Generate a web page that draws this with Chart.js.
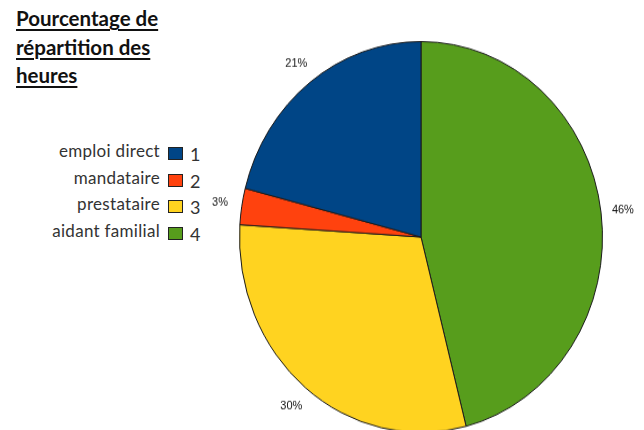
<!DOCTYPE html>
<html>
<head>
<meta charset="utf-8">
<script src="https://cdn.jsdelivr.net/npm/chart.js@4"></script>
<style>
  body { margin: 0; width: 644px; height: 430px; overflow: hidden; background: #fff; position: relative; }
  #title { position: absolute; left: 16px; top: 4px; font: bold 20.5px Lato, sans-serif; line-height: 28.5px; color: #111;
           text-decoration: underline; text-decoration-thickness: 2px; text-underline-offset: 3px; }
  .lg-text { position: absolute; right: 484px; font: 17px Lato, sans-serif; letter-spacing: 0.3px; color: #333; white-space: nowrap; }
  .lg-box { position: absolute; left: 168px; width: 13px; height: 11px; border: 1px solid #222; }
  .lg-num { position: absolute; left: 190px; font: 18px Lato, sans-serif; color: #333; }
  #wrap { position: absolute; left: 201px; top: 17px; width: 440px; height: 440px; transform: scaleY(1.077); transform-origin: 220px 220px; }
</style>
</head>
<body>
<div id="title">Pourcentage de<br>répartition des<br>heures</div>
<div id="legend"></div>
<div id="wrap"><canvas id="pie" width="440" height="440"></canvas></div>
<script>
// data
const categories = ['emploi direct', 'mandataire', 'prestataire', 'aidant familial'];
const codes = ['1', '2', '3', '4'];
const percents = [21, 3, 30, 46];
const colors = ['#004586', '#ff420e', '#ffd320', '#579d1c'];

// legend (html, left side)
const legend = document.getElementById('legend');
categories.forEach((c, i) => {
  const y = 147 + i * 26.5;
  legend.innerHTML +=
    '<div class="lg-text" style="top:' + (y - 7) + 'px">' + c + '</div>' +
    '<div class="lg-box" style="top:' + y + 'px;background:' + colors[i] + '"></div>' +
    '<div class="lg-num" style="top:' + (y - 4) + 'px">' + codes[i] + '</div>';
});

// slices go counter-clockwise from the top in the picture, so feed them reversed
const order = [3, 2, 1, 0];

const outsideLabels = {
  id: 'outsideLabels',
  afterDatasetsDraw(chart) {
    const {ctx} = chart;
    const meta = chart.getDatasetMeta(0);
    ctx.save();
    ctx.font = '11px "Liberation Sans", Arial, sans-serif';
    ctx.fillStyle = '#111';
    ctx.textAlign = 'center';
    ctx.textBaseline = 'middle';
    meta.data.forEach((arc, i) => {
      const mid = (arc.startAngle + arc.endAngle) / 2;
      const r = arc.outerRadius + 22;
      ctx.fillText(percents[order[i]] + '%', arc.x + Math.cos(mid) * r, arc.y + Math.sin(mid) * r);
    });
    ctx.restore();
  }
};

new Chart(document.getElementById('pie'), {
  type: 'pie',
  data: {
    labels: order.map(i => categories[i]),
    datasets: [{
      data: order.map(i => percents[i]),
      backgroundColor: order.map(i => colors[i]),
      borderColor: '#1a1a1a',
      borderWidth: 1
    }]
  },
  options: {
    responsive: false,
    animation: false,
    layout: { padding: 38 },
    plugins: { legend: { display: false }, tooltip: { enabled: false } }
  },
  plugins: [outsideLabels]
});
</script>
</body>
</html>
